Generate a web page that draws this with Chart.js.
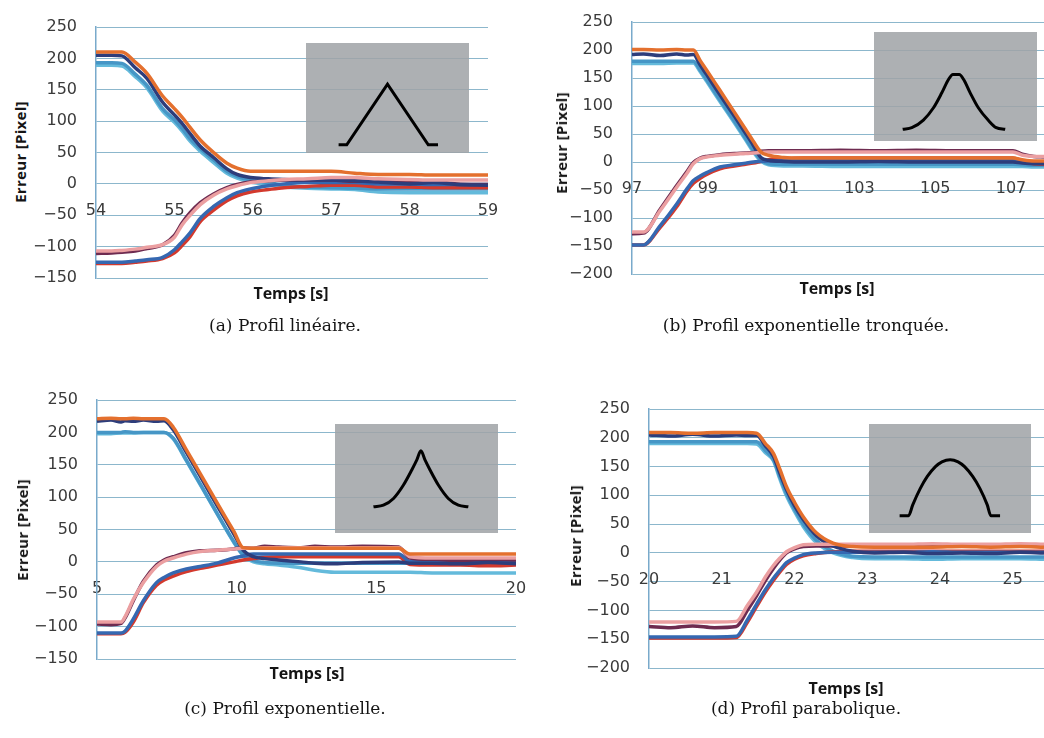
<!DOCTYPE html>
<html>
<head>
<meta charset="utf-8">
<script src="https://cdn.jsdelivr.net/npm/chart.js@4.4.0/dist/chart.umd.min.js"></script>
<style>
body{margin:0;background:#fff;width:1044px;height:738px;position:relative;overflow:hidden}
canvas{position:absolute}
.inset{position:absolute;background:rgba(160,163,167,0.86)}
.inset canvas{left:0;top:0}
.ytitle{position:absolute;font:bold 15px "Open Sans";letter-spacing:0.3px;transform:translate(-50%,-50%) rotate(-90deg);white-space:nowrap;color:#151515}
.xtitle{position:absolute;font:bold 16px "Open Sans";transform:translate(-50%,-50%);white-space:nowrap;color:#151515}
.cap{position:absolute;font:17px "DejaVu Serif";transform:translate(-50%,-50%);white-space:nowrap;color:#151515}
</style>
</head>
<body>
<canvas id="chartA"></canvas>
<canvas id="chartB"></canvas>
<canvas id="chartC"></canvas>
<canvas id="chartD"></canvas>
<div class="inset" style="left:306px;top:43px;width:163px;height:110px"><canvas id="insetA"></canvas></div>
<div class="inset" style="left:874px;top:32px;width:163px;height:109px"><canvas id="insetB"></canvas></div>
<div class="inset" style="left:335px;top:424px;width:163px;height:109px"><canvas id="insetC"></canvas></div>
<div class="inset" style="left:869px;top:424px;width:162px;height:109px"><canvas id="insetD"></canvas></div>
<div class="ytitle" style="left:20px;top:152px">Erreur [Pixel]</div>
<div class="ytitle" style="left:561px;top:143px">Erreur [Pixel]</div>
<div class="ytitle" style="left:22px;top:530px">Erreur [Pixel]</div>
<div class="ytitle" style="left:575px;top:536px">Erreur [Pixel]</div>
<div class="xtitle" style="left:291px;top:293px">Temps [s]</div>
<div class="xtitle" style="left:837px;top:288px">Temps [s]</div>
<div class="xtitle" style="left:307px;top:673px">Temps [s]</div>
<div class="xtitle" style="left:846px;top:688px">Temps [s]</div>
<div class="cap" style="left:285px;top:325px">(a) Profil linéaire.</div>
<div class="cap" style="left:806px;top:325px">(b) Profil exponentielle tronquée.</div>
<div class="cap" style="left:285px;top:708px">(c) Profil exponentielle.</div>
<div class="cap" style="left:806px;top:708px">(d) Profil parabolique.</div>
<script>
// (a) profil linéaire
const tA = [54.0, 54.2, 54.33, 54.5, 54.65, 54.85, 55.0, 55.1, 55.2, 55.33, 55.5, 55.67, 55.8, 55.97, 56.2, 56.4, 56.7, 57.0, 57.3, 57.6, 58.0, 58.3, 58.6, 59.0];
const orangeA = [210, 210, 210, 194, 176, 140, 120, 106, 90, 70, 50, 33, 25, 20, 20, 20, 20, 20, 17, 15, 15, 14, 14, 14];
const navyA = [205, 205, 204, 185, 168, 130, 110, 96, 80, 60, 42, 24, 15, 10, 8, 7, 6, 6, 5, 3, 0, 2, -1, -2];
const tealA = [193, 193, 192, 175, 157, 120, 102, 88, 72, 56, 38, 20, 12, 6, 2, -2, -5, -6, -7, -8, -8, -8, -8, -8];
const cyanA = [189, 189, 188, 171, 153, 116, 98, 84, 68, 52, 34, 17, 9, 3, -1, -5, -7, -8, -9, -13, -14, -14, -14, -14];
const pinkA = [-107, -107, -106, -104, -101, -97, -85, -65, -50, -33, -18, -8, -3, 2, 5, 7, 8, 10, 10, 8, 7, 6, 6, 6];
const maroonA = [-111, -110, -109, -107, -103, -97, -82, -62, -46, -30, -16, -6, -1, 3, 5, 6, 6, 6, 4, 4, 2, 4, 0, -1];
const blueA = [-125, -125, -125, -123, -121, -117, -105, -92, -78, -55, -36, -22, -14, -8, -3, 0, 2, 2, 2, 0, 0, -1, -1, -1];
const redA = [-127, -127, -127, -125, -123, -119, -110, -98, -84, -60, -42, -27, -19, -13, -9, -6, -4, -2, -2, -5, -5, -6, -6, -6];
const xTicksA = [54, 55, 56, 57, 58, 59];
const yTicksA = [-150, -100, -50, 0, 50, 100, 150, 200, 250];

// (b) profil exponentielle tronquee
const tB = [97.0, 97.3, 97.74, 98.18, 98.45, 98.62, 98.8, 98.97, 99.32, 99.7, 100.0, 100.2, 100.4, 100.6, 101.0, 101.5, 102.5, 103.5, 104.5, 105.5, 106.5, 107.05, 107.3, 107.6, 107.87];
const orangeB = [201, 201, 200, 201, 200, 200, 181, 164, 128, 89, 58, 37, 18, 12, 8, 7, 7, 7, 7, 7, 7, 7, 4, 2, 2];
const navyB = [192, 193, 190, 193, 191, 192, 173, 156, 120, 82, 51, 30, 8, 3, 1, 0, 0, 1, 0, 0, 0, 0, -2, -3, -3];
const tealB = [180, 180, 180, 180, 180, 180, 164, 147, 111, 73, 42, 21, 4, -3, -4, -4, -4, -4, -4, -4, -4, -4, -5, -6, -6];
const cyanB = [176, 176, 176, 177, 177, 177, 161, 144, 108, 70, 39, 18, 2, -5, -7, -7, -8, -8, -8, -8, -8, -8, -8, -9, -9];
const pinkB = [-125, -125, -87, -45, -20, -3, 6, 9, 12, 14, 15, 16, 17, 18, 18, 18, 18, 18, 18, 18, 18, 18, 12, 10, 10];
const maroonB = [-128, -127, -85, -42, -17, -1, 7, 10, 13, 15, 16, 17, 19, 20, 20, 20, 21, 20, 21, 20, 20, 20, 14, 10, 9];
const blueB = [-148, -148, -114, -75, -48, -33, -25, -19, -9, -5, -2, 0, 1, 2, 2, 3, 3, 3, 3, 3, 3, 3, 0, -2, -2];
const redB = [-148, -148, -117, -80, -52, -38, -29, -22, -12, -7, -4, -2, 1, 4, 6, 7, 7, 7, 7, 7, 7, 7, 2, -3, -4];
const xTicksB = [97, 99, 101, 103, 105, 107];
const yTicksB = [-200, -150, -100, -50, 0, 50, 100, 150, 200, 250];

// (c) profil exponentielle
const tC = [5.0, 5.5, 5.86, 6.0, 6.3, 6.66, 7.13, 7.4, 7.73, 8.2, 8.7, 9.3, 9.9, 10.23, 10.6, 11.0, 11.5, 12.3, 12.8, 13.5, 14.5, 15.8, 16.2, 17.0, 18.0, 19.0, 20.0];
const orangeC = [221, 222, 221, 221, 222, 221, 221, 221, 208, 173, 136, 91, 47, 22, 21, 21, 21, 21, 21, 21, 21, 21, 12, 12, 12, 12, 12];
const navyC = [217, 219, 216, 218, 217, 219, 217, 218, 204, 169, 132, 87, 43, 18, 8, 5, 3, 0, -2, -3, -1, 0, -2, -2, -3, -1, -3];
const tealC = [200, 200, 200, 201, 200, 200, 200, 200, 191, 157, 120, 75, 31, 11, 2, -1, -2, -2, -2, -2, -2, -2, -2, -3, -2, -3, -3];
const cyanC = [198, 198, 199, 199, 199, 200, 200, 200, 190, 156, 119, 74, 30, 10, 0, -3, -5, -9, -13, -16, -16, -16, -16, -17, -17, -17, -17];
const pinkC = [-93, -93, -93, -85, -58, -32, -7, 1, 6, 12, 16, 18, 20, 21, 21, 22, 22, 22, 22, 22, 22, 22, 8, 6, 6, 6, 6];
const maroonC = [-96, -97, -95, -87, -60, -30, -5, 3, 8, 14, 17, 18, 20, 22, 21, 24, 23, 22, 24, 23, 24, 23, 6, 4, 2, 4, 3];
const blueC = [-110, -110, -110, -107, -88, -60, -32, -24, -17, -11, -7, -2, 6, 9, 12, 12, 12, 12, 12, 12, 12, 12, 1, 1, 1, 1, 1];
const redC = [-111, -111, -111, -109, -93, -63, -36, -28, -22, -15, -10, -5, 0, 3, 5, 7, 8, 8, 8, 8, 8, 8, -4, -5, -5, -6, -5];
const xTicksC = [5, 10, 15, 20];
const yTicksC = [-150, -100, -50, 0, 50, 100, 150, 200, 250];

// (d) profil parabolique
const tD = [20.0, 20.3, 20.6, 20.9, 21.2, 21.35, 21.48, 21.6, 21.71, 21.8, 21.89, 22.0, 22.12, 22.3, 22.53, 22.8, 23.1, 23.5, 23.9, 24.3, 24.7, 25.1, 25.43];
const orangeD = [209, 209, 208, 209, 209, 209, 208, 190, 173, 145, 115, 88, 63, 35, 17, 11, 10, 10, 10, 11, 10, 11, 10];
const navyD = [205, 203, 206, 203, 205, 204, 204, 186, 168, 138, 110, 82, 58, 30, 12, 3, 0, 1, -1, 0, -1, 1, 0];
const tealD = [193, 193, 193, 193, 193, 193, 193, 178, 162, 132, 103, 76, 50, 22, 3, -6, -7, -7, -7, -7, -7, -7, -7];
const cyanD = [190, 190, 190, 190, 190, 190, 189, 174, 160, 128, 99, 72, 46, 18, 0, -8, -10, -10, -11, -10, -10, -10, -11];
const pinkD = [-120, -120, -120, -120, -119, -92, -68, -42, -22, -9, 2, 9, 14, 15, 15, 15, 15, 15, 16, 15, 15, 16, 15];
const maroonD = [-128, -130, -127, -130, -128, -100, -74, -48, -27, -12, 0, 7, 11, 12, 12, 12, 13, 12, 13, 12, 13, 14, 12];
const blueD = [-146, -146, -146, -146, -145, -117, -89, -64, -44, -30, -17, -9, -3, 0, 1, 1, 1, 1, 2, 1, 1, 1, 1];
const redD = [-148, -148, -148, -148, -147, -121, -93, -68, -48, -33, -20, -11, -5, -1, 2, 3, 3, 3, 3, 3, 3, 3, 3];
const xTicksD = [20, 21, 22, 23, 24, 25];
const yTicksD = [-200, -150, -100, -50, 0, 50, 100, 150, 200, 250];

// velocity profiles in the insets (percent of the box)
const profAx = [20, 25, 50, 75, 81];
const profAy = [7.5, 7.5, 62.5, 7.5, 7.5];
const profBx = [17.6, 23.2, 30.3, 36.5, 41.6, 45.7, 48.4, 52.3, 55, 59, 64, 70, 75, 80.5];
const profBy = [10.7, 12.2, 19.2, 30.5, 44.2, 56.4, 61, 61, 56.4, 44.2, 30.5, 19.2, 12.2, 10.7];
const profCx = [23.6, 29.7, 35.9, 42, 47.1, 50.2, 52.7, 55.2, 58.3, 63.4, 69.5, 75.7, 81.8];
const profCy = [24, 25.5, 31.7, 44, 57.8, 67, 75.4, 67, 57.8, 44, 31.7, 25.5, 24];
const profDx = [18.9, 24.4, 27, 31.6, 36, 41, 45, 50.1, 55, 59, 64, 68.5, 73, 75.2, 80.9];
const profDy = [15.9, 15.9, 25.8, 40.7, 51.9, 60.9, 65.3, 67.3, 65.3, 60.9, 51.9, 40.7, 25.8, 15.9, 15.9];

const colors = {orange:'#e4702e', pink:'#eb9fa1', navy:'#2d3d7b', maroon:'#6e2b50',
                blue:'#3568b1', red:'#d3392d', teal:'#4696c6', cyan:'#64badb'};
const gridColor = '#8cb7cc';

function panel(id, geo, t, series, xTicks, yTicks, xMax) {
  const cv = document.getElementById(id);
  cv.width = geo.cw; cv.height = geo.ch;
  cv.style.left = geo.cx + 'px'; cv.style.top = geo.cy + 'px';
  const datasets = Object.keys(series).map(k => ({
    data: t.map((x, i) => ({x: x, y: series[k][i]})),
    borderColor: colors[k], borderWidth: 3.5, pointRadius: 0,
    cubicInterpolationMode: 'monotone', fill: false
  }));
  new Chart(cv, {
    type: 'line',
    data: {datasets: datasets},
    options: {
      responsive: false, animation: false, events: [],
      layout: {padding: {left: 0, top: geo.T - geo.cy, right: geo.cx + geo.cw - geo.R, bottom: geo.cy + geo.ch - geo.B}},
      plugins: {legend: {display: false}, tooltip: {enabled: false}},
      scales: {
        x: {
          type: 'linear', position: {y: 0}, min: xTicks[0], max: xMax,
          grid: {display: false, drawTicks: false}, border: {display: false},
          afterBuildTicks: s => { s.ticks = xTicks.map(v => ({value: v})); },
          afterFit: s => { s.paddingLeft = 0; s.paddingRight = 0; },
          ticks: {autoSkip: false, maxRotation: 0, padding: 17, color: '#3a3a3a',
                  font: {family: 'DejaVu Sans', size: 16}}
        },
        y: {
          type: 'linear', position: 'left', min: yTicks[0], max: yTicks[yTicks.length - 1],
          grid: {color: gridColor, lineWidth: 1, drawTicks: false},
          border: {color: '#79aacb', width: 1.5},
          afterBuildTicks: s => { s.ticks = yTicks.map(v => ({value: v})); },
          afterFit: s => { s.width = geo.L - geo.cx; s.paddingTop = 0; s.paddingBottom = 0; },
          ticks: {padding: 19, color: '#3a3a3a', font: {family: 'DejaVu Sans', size: 16},
                  callback: v => String(v).replace('-', '\u2212')}
        }
      }
    }
  });
}

function inset(id, w, h, px, py, smooth) {
  const cv = document.getElementById(id);
  cv.width = w; cv.height = h;
  new Chart(cv, {
    type: 'line',
    data: {datasets: [{data: px.map((x, i) => ({x: x, y: py[i]})), borderColor: '#000', borderWidth: 3,
      pointRadius: 0, cubicInterpolationMode: smooth ? 'monotone' : 'default', tension: 0}]},
    options: {
      responsive: false, animation: false, events: [],
      layout: {padding: 0},
      plugins: {legend: {display: false}, tooltip: {enabled: false}},
      scales: {x: {type: 'linear', min: 0, max: 100, display: false}, y: {min: 0, max: 100, display: false}}
    }
  });
}

panel('chartA', {cx: 30, cy: 15, cw: 475, ch: 275, L: 96, R: 488, T: 27, B: 278}, tA,
  {orange: orangeA, pink: pinkA, navy: navyA, maroon: maroonA, blue: blueA, red: redA, teal: tealA, cyan: cyanA},
  xTicksA, yTicksA, 59);
panel('chartB', {cx: 560, cy: 8, cw: 484, ch: 278, L: 632, R: 1044, T: 22, B: 274}, tB,
  {orange: orangeB, pink: pinkB, navy: navyB, maroon: maroonB, blue: blueB, red: redB, teal: tealB, cyan: cyanB},
  xTicksB, yTicksB, 107.87);
panel('chartC', {cx: 30, cy: 388, cw: 500, ch: 284, L: 97, R: 516, T: 400, B: 659}, tC,
  {orange: orangeC, pink: pinkC, navy: navyC, maroon: maroonC, blue: blueC, red: redC, teal: tealC, cyan: cyanC},
  xTicksC, yTicksC, 20);
panel('chartD', {cx: 575, cy: 396, cw: 469, ch: 284, L: 649, R: 1044, T: 409, B: 668}, tD,
  {orange: orangeD, pink: pinkD, navy: navyD, maroon: maroonD, blue: blueD, red: redD, teal: tealD, cyan: cyanD},
  xTicksD, yTicksD, 25.43);

inset('insetA', 163, 110, profAx, profAy, false);
inset('insetB', 163, 109, profBx, profBy, true);
inset('insetC', 163, 109, profCx, profCy, true);
inset('insetD', 162, 109, profDx, profDy, true);
</script>
</body>
</html>
